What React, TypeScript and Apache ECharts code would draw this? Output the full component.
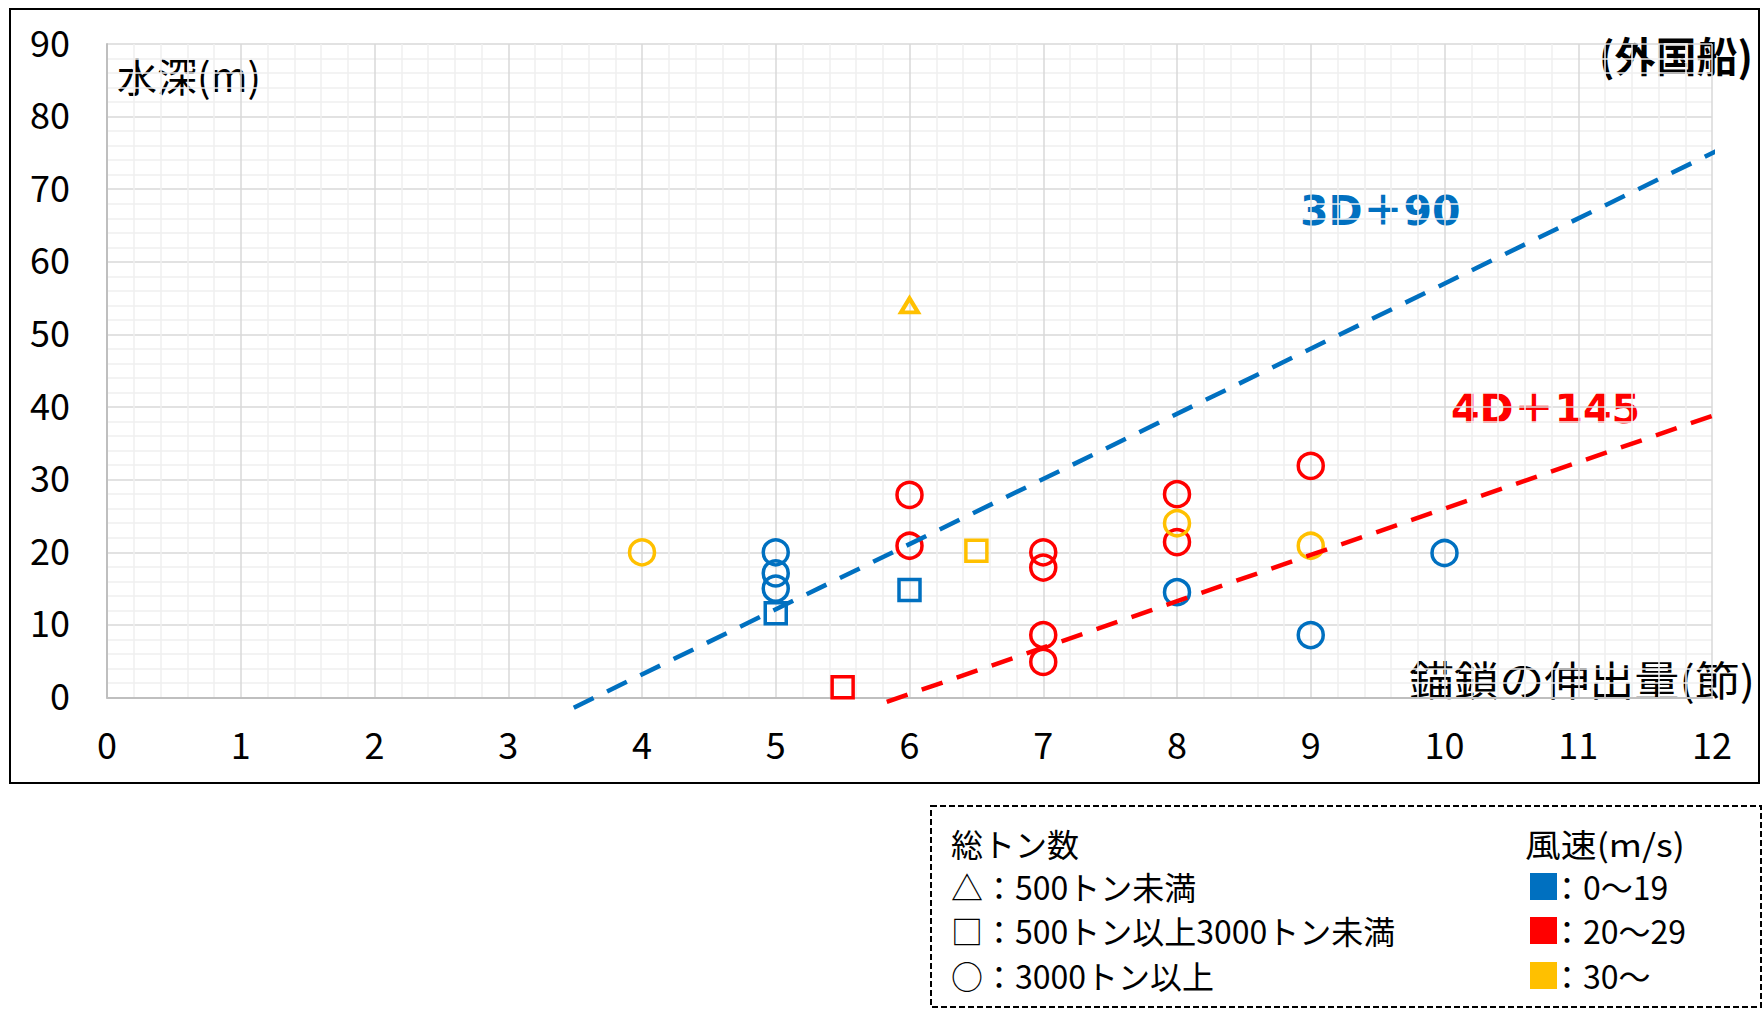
import React, { useEffect, useRef } from "react";
import * as echarts from "echarts";

// ---- data (x: 錨鎖の伸出量(節), y: 水深(m)) ----
const blueCircle = [[5, 20], [5, 17.1], [5, 15], [8, 14.5], [9, 8.6], [10, 19.9]];
const blueSquare = [[5, 11.6], [6, 14.8]];
const redCircle = [[6, 27.9], [6, 20.9], [7, 20], [7, 17.9], [7, 8.6], [7, 4.9], [8, 28], [8, 21.4], [9, 31.9]];
const redSquare = [[5.5, 1.4]];
const yellowCircle = [[4, 20], [8, 24], [9, 20.9]];
const yellowSquare = [[6.5, 20.2]];
const yellowTriangle = [[6, 54]];
const line3D90 = [[3.49, -1.4], [12.05, 75.4]];
const line4D145 = [[5.83, -0.6], [12.05, 39.1]];

const xMin = 0, xMax = 12, xStep = 1;
const yMin = 0, yMax = 90, yStep = 10;

const tonnageLabels = ["総トン数", "△：500トン未満", "□：500トン以上3000トン未満", "○：3000トン以上"];
const windLabels = ["風速(m/s)", "：0～19", "：20～29", "：30～"];

const BLUE = "#0070C0";
const RED = "#FF0000";
const YELLOW = "#FFC000";
const windColors = [BLUE, RED, YELLOW];

const FONT = "'Noto Sans CJK JP', 'Noto Sans', sans-serif";
const FONT_B = "'DejaVu Sans', 'Noto Sans CJK JP', sans-serif";

function scatter(data: number[][], symbol: string, size: any, color: string, bw = 3.5) {
  return {
    type: "scatter",
    data,
    symbol,
    symbolSize: size,
    z: 3,
    itemStyle: { color: "rgba(0,0,0,0)", borderColor: color, borderWidth: bw, opacity: 1 },
    silent: true,
  };
}

function dashLine(data: number[][], color: string) {
  return {
    type: "line",
    data,
    symbol: "none",
    clip: false,
    z: 5,
    silent: true,
    lineStyle: { color, width: 4.5, type: [22, 15] },
  };
}

function txt(text: string, x: number, y: number, o: any = {}) {
  const { scaleX = 1, align = "left", ...style } = o;
  return {
    type: "text",
    x,
    y,
    scaleX,
    silent: true,
    style: {
      text,
      x: 0,
      y: 0,
      fontSize: 32,
      fontFamily: FONT,
      fill: "#000",
      textVerticalAlign: "middle",
      textAlign: align,
      ...style,
    },
  };
}

export default function App() {
  const ref = useRef<HTMLDivElement>(null);
  useEffect(() => {
    if (!ref.current) return;
    const chart = echarts.init(ref.current, null, { renderer: "svg" });
    const rowY = [843, 886, 930, 975];
    const graphic: any[] = [
      {
        type: "rect",
        shape: { x: 10, y: 9, width: 1749, height: 774 },
        style: { fill: "none", stroke: "#000", lineWidth: 2 },
        silent: true,
      },
      txt("水深(m)", 117, 75, { fontSize: 40 }),
      txt("錨鎖の伸出量(節)", 1755, 678, { fontSize: 41, align: "right", scaleX: 1.1 }),
      txt("(外国船)", 1753, 54, { fontSize: 41, align: "right", fontWeight: "bold" }),
      txt("3D＋90", 1300, 211, { fontSize: 41, fontWeight: "bold", fontFamily: FONT_B, fill: BLUE }),
      txt("4D＋145", 1451, 409, { fontSize: 41, fontWeight: "bold", fontFamily: FONT_B, fill: RED }),
      {
        type: "rect",
        shape: { x: 931, y: 806, width: 830, height: 201 },
        style: { fill: "none", stroke: "#000", lineWidth: 2, lineDash: [6, 3] },
        silent: true,
      },
    ];
    tonnageLabels.forEach((t, i) => {
      graphic.push(txt(t, 951, rowY[i]));
    });
    windLabels.forEach((t, i) => {
      if (i === 0) {
        graphic.push(txt(t, 1525, rowY[i], { scaleX: 1.12 }));
      } else {
        graphic.push(txt(t, 1551, rowY[i]));
        graphic.push({
          type: "rect",
          silent: true,
          shape: { x: 1530, y: rowY[i] - 13, width: 27, height: 27 },
          style: { fill: windColors[i - 1] },
        });
      }
    });

    chart.setOption({
      animation: false,
      backgroundColor: "#fff",
      grid: { left: 107, right: 52, top: 44, bottom: 315.5, containLabel: false },
      xAxis: {
        type: "value",
        min: xMin,
        max: xMax,
        interval: xStep,
        axisLine: { show: true, onZero: false, lineStyle: { color: "#bfbfbf", width: 2 } },
        axisTick: { show: false },
        axisLabel: { color: "#000", fontSize: 36, fontFamily: FONT, margin: 27 },
        splitLine: { show: true, lineStyle: { color: "#d9d9d9", width: 1.5 } },
        minorTick: { show: false, splitNumber: 5 },
        minorSplitLine: { show: true, lineStyle: { color: "#efefef", width: 1.5 } },
      },
      yAxis: {
        type: "value",
        min: yMin,
        max: yMax,
        interval: yStep,
        axisLine: { show: true, onZero: false, lineStyle: { color: "#bfbfbf", width: 2 } },
        axisTick: { show: false },
        axisLabel: { color: "#000", fontSize: 36, fontFamily: FONT, margin: 37, verticalAlign: "bottom", lineHeight: 7 },
        splitLine: { show: true, lineStyle: { color: "#d9d9d9", width: 1.5 } },
        minorTick: { show: false, splitNumber: 5 },
        minorSplitLine: { show: true, lineStyle: { color: "#efefef", width: 1.5 } },
      },
      series: [
        scatter(blueCircle, "circle", 25, BLUE),
        scatter(blueSquare, "rect", 21, BLUE),
        scatter(redCircle, "circle", 25, RED),
        scatter(redSquare, "rect", 21, RED),
        scatter(yellowCircle, "circle", 25, YELLOW),
        scatter(yellowSquare, "rect", 21, YELLOW),
        scatter(yellowTriangle, "triangle", [17, 14], YELLOW, 4),
        dashLine(line3D90, BLUE),
        dashLine(line4D145, RED),
      ],
      graphic,
    });
    return () => chart.dispose();
  }, []);
  return (
    <div
      ref={ref}
      style={{ position: "fixed", left: 0, top: 0, width: 1764, height: 1013, background: "#fff" }}
    />
  );
}
